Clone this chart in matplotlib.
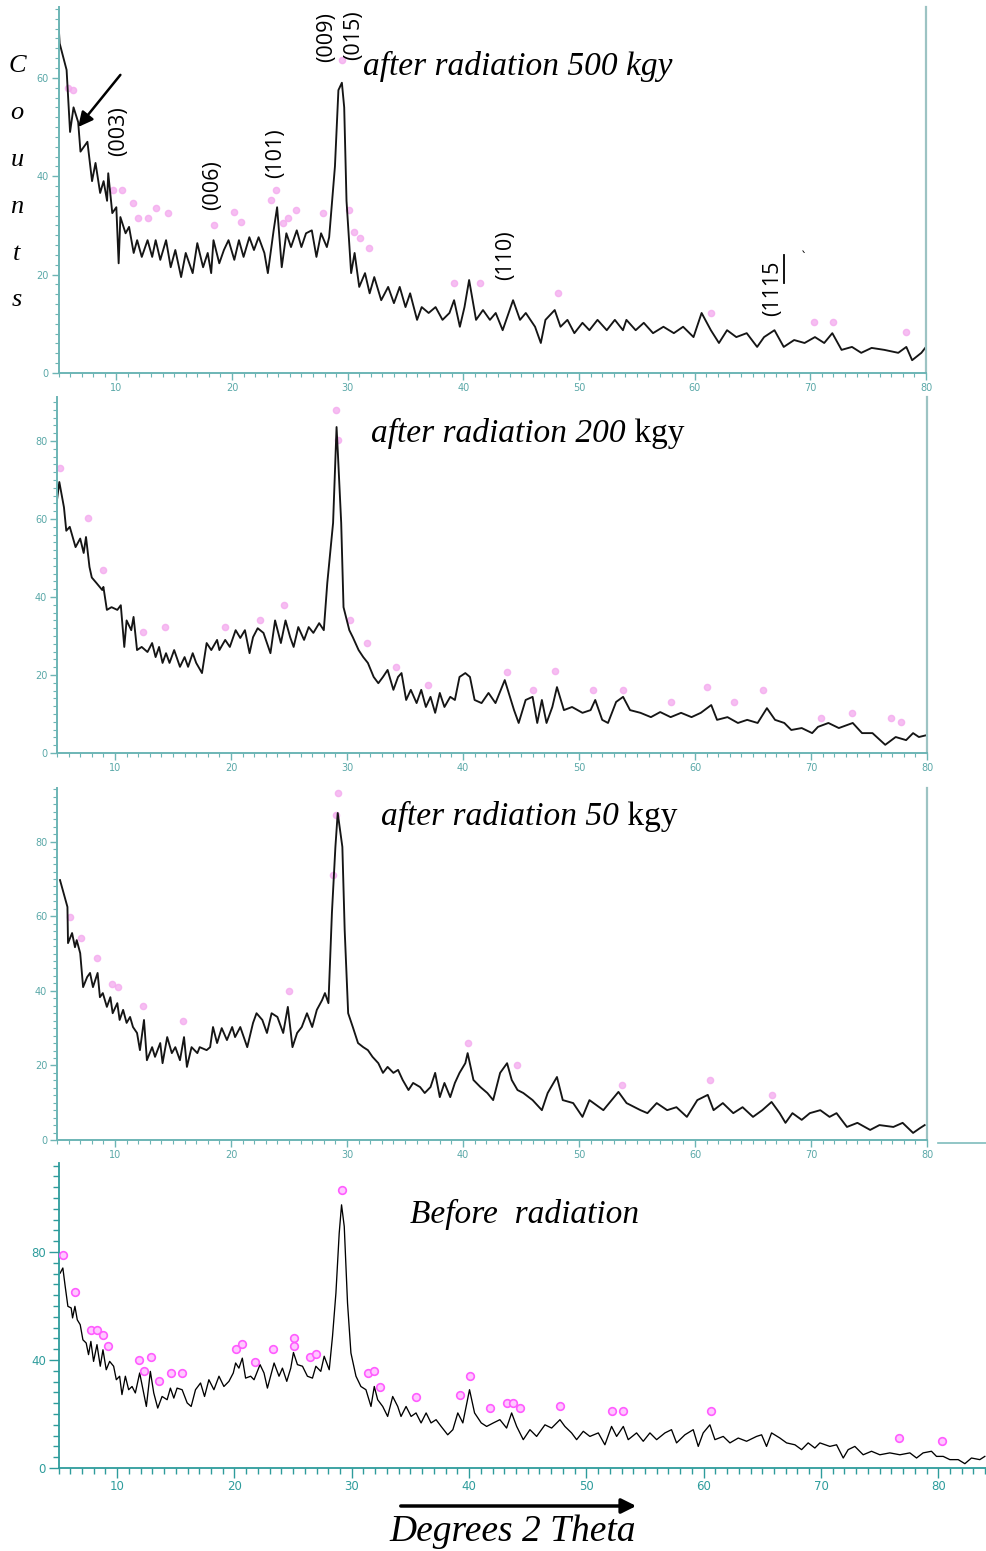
import matplotlib
matplotlib.use('Agg')
import matplotlib.pyplot as plt
from matplotlib.ticker import MultipleLocator
from matplotlib.lines import Line2D

# ---- after radiation 500 kgy ----
x500 = [5.0, 5.1, 5.7, 6.0, 6.3, 6.7, 6.9, 7.5, 7.9, 8.2,
        8.6, 8.9, 9.2, 9.3, 9.65, 10.0, 10.2, 10.35, 10.8, 11.1,
        11.5, 11.8, 12.2, 12.7, 13.1, 13.4, 13.8, 14.3, 14.7, 15.1,
        15.6, 16.0, 16.6, 17.0, 17.5, 17.9, 18.2, 18.4, 18.9, 19.3,
        19.7, 20.2, 20.6, 21.0, 21.5, 21.9, 22.3, 22.8, 23.1, 23.6,
        23.9, 24.3, 24.7, 25.1, 25.6, 26.0, 26.4, 26.9, 27.3, 27.7,
        28.2, 28.4, 28.9, 29.2, 29.5, 29.7, 29.9, 30.3, 30.6, 31.0,
        31.5, 31.9, 32.3, 32.9, 33.5, 34.0, 34.5, 35.0, 35.4, 36.0,
        36.4, 37.0, 37.6, 38.2, 38.8, 39.2, 39.7, 40.1, 40.5, 41.1,
        41.7, 42.3, 42.8, 43.4, 44.3, 44.9, 45.4, 46.2, 46.7, 47.1,
        47.9, 48.4, 49.0, 49.6, 50.3, 50.9, 51.6, 52.4, 53.1, 53.8,
        54.1, 54.9, 55.6, 56.4, 57.3, 58.2, 59.0, 59.9, 60.6, 61.4,
        62.1, 62.8, 63.6, 64.5, 65.4, 66.0, 66.9, 67.7, 68.6, 69.5,
        70.4, 71.2, 71.9, 72.7, 73.6, 74.4, 75.3, 76.4, 77.6, 78.3,
        78.8, 79.6, 80.0]
y500 = [71, 67, 61.6, 49, 54, 51, 45, 47, 39, 42.7,
        36.6, 39, 35, 40.6, 32.5, 33.7, 22.3, 31.7, 28.4, 29.7,
        24.4, 27, 23.6, 27, 23.6, 27, 23, 27, 21.5, 25,
        19.5, 24.4, 20.3, 26.4, 21.5, 24.4, 20.3, 27, 22.3, 25,
        27, 23, 27, 23.6, 27.6, 25, 27.6, 24.4, 20.3, 29,
        33.7, 21.5, 28.4, 25.6, 29, 25.6, 28.4, 29, 23.6, 28.4,
        25.6, 27.6, 42, 57.5, 59, 54, 35, 20.3, 24.4, 17.5,
        20.3, 16.2, 19.5, 14.8, 17.5, 14.2, 17.5, 13.4, 16.2, 10.8,
        13.4, 12.2, 13.4, 10.8, 12.2, 14.8, 9.4, 13.4, 18.9, 10.8,
        12.8, 10.8, 12.2, 8.7, 14.8, 10.8, 12.2, 9.4, 6.1, 10.8,
        12.8, 9.4, 10.8, 8.1, 10.2, 8.7, 10.8, 8.7, 10.8, 8.7,
        10.8, 8.7, 10.2, 8.1, 9.4, 8.1, 9.4, 7.3, 12.2, 8.7,
        6.1, 8.7, 7.3, 8.1, 5.3, 7.3, 8.7, 5.3, 6.7, 6.1,
        7.3, 6.1, 8.1, 4.7, 5.3, 4.1, 5.1, 4.7, 4.1, 5.3,
        2.6, 4.1, 5.3]
mx500 = [5.83, 6.26, 9.74, 10.52, 11.48, 11.91, 12.7, 13.39, 14.43, 18.43,
         20.17, 20.78, 23.39, 23.83, 24.43, 24.87, 25.57, 27.91, 29.48, 30.09,
         30.52, 31.04, 31.83, 39.2, 41.4, 48.2, 61.4, 70.3, 72.0, 78.3]
my500 = [57.9, 57.5, 37.2, 37.2, 34.6, 31.5, 31.5, 33.5, 32.5, 30.1,
         32.7, 30.7, 35.2, 37.2, 30.5, 31.5, 33.1, 32.5, 63.6, 33.1,
         28.7, 27.4, 25.4, 18.3, 18.3, 16.3, 12.2, 10.4, 10.4, 8.3]

# ---- after radiation 200 kgy ----
x200 = [5.0, 5.2, 5.6, 5.8, 6.1, 6.6, 7.0, 7.3, 7.5, 7.8,
        8.0, 8.4, 8.9, 9.0, 9.3, 9.7, 10.2, 10.5, 10.8, 11.0,
        11.4, 11.6, 11.9, 12.3, 12.8, 13.2, 13.5, 13.8, 14.1, 14.4,
        14.7, 15.1, 15.6, 16.0, 16.3, 16.7, 17.0, 17.5, 17.9, 18.3,
        18.8, 19.0, 19.5, 19.9, 20.4, 20.8, 21.2, 21.6, 21.9, 22.3,
        22.8, 23.4, 23.8, 24.3, 24.7, 25.1, 25.4, 25.8, 26.3, 26.7,
        27.1, 27.6, 28.0, 28.3, 28.8, 29.1, 29.2, 29.5, 29.7, 30.2,
        30.5, 31.0, 31.4, 31.8, 32.3, 32.7, 33.1, 33.5, 34.0, 34.4,
        34.7, 35.1, 35.5, 36.0, 36.4, 36.8, 37.2, 37.6, 38.0, 38.4,
        38.9, 39.3, 39.7, 40.2, 40.6, 41.0, 41.6, 42.2, 42.8, 43.6,
        44.4, 44.8, 45.4, 46.0, 46.4, 46.8, 47.2, 47.7, 48.1, 48.7,
        49.4, 50.3, 51.0, 51.4, 52.0, 52.5, 53.2, 53.8, 54.4, 55.3,
        56.2, 57.0, 57.9, 58.8, 59.7, 60.5, 61.4, 61.9, 62.8, 63.7,
        64.5, 65.4, 66.2, 66.9, 67.7, 68.3, 69.2, 70.1, 70.6, 71.5,
        72.4, 73.6, 74.4, 75.3, 76.4, 77.3, 78.2, 78.8, 79.3, 80.0]
y200 = [64.9, 69.5, 63, 57, 58, 52.8, 55, 51.3, 55.4, 47.7,
        45, 43.6, 41.8, 42.6, 36.7, 37.4, 36.7, 37.9, 27.2, 34,
        31.5, 34.9, 26.4, 27.2, 25.9, 28.2, 24.6, 27.2, 23.1, 25.6,
        23.1, 26.4, 22.1, 24.6, 22.1, 25.6, 23.1, 20.5, 28.2, 26.4,
        29, 26.4, 29, 27.2, 31.5, 29.5, 31.5, 25.6, 29.7, 32,
        30.8, 25.6, 34, 28.2, 34, 29.7, 27.2, 32.3, 29, 32.3,
        30.8, 33.3, 31.5, 43.6, 59, 83.6, 77.7, 59, 37.4, 31.5,
        29.7, 26.4, 24.6, 23.1, 19.5, 17.9, 19.5, 21.3, 16.2, 19.5,
        20.5, 13.6, 16.2, 12.8, 16.2, 11.8, 14.4, 10.3, 15.4, 11.8,
        14.4, 13.6, 19.5, 20.5, 19.5, 13.6, 12.8, 15.4, 12.8, 18.7,
        11, 7.7, 13.6, 14.4, 7.7, 13.6, 7.7, 11.8, 16.9, 11,
        11.8, 10.3, 11, 13.6, 8.5, 7.7, 13.1, 14.4, 11, 10.3,
        9.2, 10.5, 9.2, 10.3, 9.2, 10.3, 12.3, 8.5, 9.2, 7.7,
        8.5, 7.7, 11.5, 8.5, 7.7, 5.9, 6.4, 5.1, 6.7, 7.7,
        6.4, 7.7, 5.1, 5.1, 2.1, 4.1, 3.3, 5.1, 4.1, 4.6]
mx200 = [5.26, 7.67, 8.97, 12.41, 14.31, 19.48, 22.5, 24.57, 29.05, 29.22,
         30.26, 31.72, 34.22, 36.98, 43.79, 46.03, 47.93, 51.2, 53.8, 57.9,
         61.0, 63.4, 65.9, 70.9, 73.5, 76.9, 77.8]
my200 = [73.1, 60.3, 47.0, 31.1, 32.3, 32.3, 34.1, 37.9, 87.9, 80.3,
         34.1, 28.2, 22.1, 17.4, 20.8, 16.2, 21.0, 16.2, 16.2, 13.1,
         16.9, 13.1, 16.2, 9.0, 10.3, 9.0, 7.9]

# ---- after radiation 50 kgy ----
x50 = [5.26, 5.5, 5.9, 5.95, 6.3, 6.55, 6.7, 7.0, 7.25, 7.6,
       7.85, 8.1, 8.5, 8.7, 8.95, 9.3, 9.6, 9.8, 10.2, 10.4,
       10.7, 11.0, 11.3, 11.55, 11.9, 12.15, 12.5, 12.75, 13.2, 13.45,
       13.9, 14.1, 14.5, 14.9, 15.2, 15.6, 15.95, 16.2, 16.6, 17.1,
       17.3, 17.9, 18.2, 18.45, 18.8, 19.2, 19.65, 20.1, 20.35, 20.8,
       21.4, 21.9, 22.2, 22.7, 23.1, 23.5, 24.0, 24.5, 24.9, 25.3,
       25.7, 26.1, 26.55, 27.0, 27.4, 27.85, 28.1, 28.4, 28.7, 29.0,
       29.2, 29.6, 29.8, 30.1, 30.5, 30.95, 31.4, 31.8, 32.2, 32.7,
       33.1, 33.5, 34.0, 34.4, 34.8, 35.3, 35.7, 36.3, 36.7, 37.2,
       37.6, 38.0, 38.4, 38.9, 39.3, 39.7, 40.2, 40.4, 40.9, 41.5,
       42.1, 42.6, 43.2, 43.8, 44.2, 44.7, 45.2, 46.0, 46.8, 47.3,
       48.1, 48.6, 49.5, 50.3, 50.9, 52.1, 53.4, 54.1, 55.3, 55.9,
       56.7, 57.6, 58.4, 59.3, 60.2, 61.1, 61.6, 62.4, 63.3, 64.1,
       65.0, 65.8, 66.6, 67.3, 67.8, 68.4, 69.2, 69.9, 70.8, 71.6,
       72.2, 73.1, 74.0, 75.1, 75.9, 77.1, 77.9, 78.8, 79.4, 79.8]
y50 = [69.7, 67, 62.5, 52.8, 55.5, 51.7, 53.6, 50.1, 41, 43.7,
       44.8, 41, 44.8, 38.3, 39.4, 35.7, 38.3, 34, 36.7, 32.2,
       34.9, 31.4, 33, 30.3, 28.7, 24.1, 32.2, 21.4, 24.9, 22.3,
       26, 20.6, 27.6, 23.3, 24.9, 21.4, 27.6, 19.6, 24.9, 23.3,
       24.9, 24.1, 24.9, 30.3, 26, 30, 26.8, 30.3, 27.6, 30.3,
       24.9, 31.4, 34, 32.2, 28.7, 34, 33, 28.7, 35.7, 24.9,
       28.7, 30.3, 34, 30.3, 34.9, 37.5, 39.4, 36.7, 60.9, 78.6,
       87.7, 78.6, 56.3, 34, 30.3, 26, 24.9, 24.1, 22.3, 20.6,
       18, 19.6, 18, 18.8, 16.1, 13.4, 15.3, 14.2, 12.6, 14.2,
       18, 11.5, 15.3, 11.5, 15.3, 18, 20.6, 23.3, 16.1, 14.2,
       12.6, 10.7, 18, 20.6, 16.1, 13.4, 12.6, 10.7, 8, 12.6,
       16.9, 10.7, 9.9, 6.2, 10.7, 8, 12.9, 9.9, 8, 7.2,
       9.9, 8, 8.8, 6.2, 10.7, 12.1, 8, 9.9, 7.2, 8.8,
       6.2, 8, 10.2, 7.2, 4.6, 7.2, 5.4, 7.2, 8, 6.2,
       7.2, 3.5, 4.6, 2.7, 4, 3.5, 4.6, 1.9, 3.2, 4]
mx50 = [6.12, 7.07, 8.45, 9.74, 10.26, 12.41, 15.86, 25.0, 28.8, 29.05,
        29.22, 40.43, 44.66, 53.7, 61.3, 66.6]
my50 = [59.8, 54.2, 48.8, 41.8, 41.0, 35.9, 31.9, 39.9, 71.0, 87.1,
        93.0, 26.0, 20.1, 14.7, 16.1, 12.1]

# ---- before radiation ----
x0 = [5.14, 5.37, 5.57, 5.8, 6.08, 6.2, 6.4, 6.6, 6.85, 7.08,
      7.36, 7.56, 7.76, 7.99, 8.28, 8.56, 8.79, 9.07, 9.36, 9.7,
      9.93, 10.21, 10.41, 10.7, 10.98, 11.27, 11.55, 11.92, 12.26, 12.49,
      12.83, 13.12, 13.46, 13.83, 14.26, 14.54, 14.83, 15.11, 15.54, 15.97,
      16.31, 16.68, 17.11, 17.45, 17.82, 18.25, 18.68, 19.1, 19.53, 19.9,
      20.1, 20.38, 20.67, 20.95, 21.38, 21.67, 22.18, 22.52, 22.81, 23.38,
      23.8, 24.09, 24.46, 24.8, 25.03, 25.37, 25.8, 26.22, 26.65, 26.94,
      27.36, 27.65, 28.08, 28.36, 28.65, 28.93, 29.13, 29.36, 29.64, 29.93,
      30.36, 30.78, 31.21, 31.64, 31.92, 32.21, 32.64, 33.06, 33.49, 33.92,
      34.2, 34.63, 35.06, 35.48, 35.91, 36.34, 36.76, 37.19, 37.62, 38.18,
      38.62, 39.04, 39.47, 40.04, 40.47, 41.04, 41.5, 42.07, 42.63, 43.2,
      43.63, 44.06, 44.62, 45.19, 45.76, 46.47, 47.04, 47.75, 48.17, 48.74,
      49.17, 49.74, 50.3, 51.02, 51.58, 52.15, 52.58, 53.15, 53.57, 54.28,
      54.85, 55.42, 55.99, 56.7, 57.26, 57.69, 58.4, 59.11, 59.54, 59.96,
      60.53, 60.96, 61.67, 62.24, 62.95, 63.66, 64.51, 64.94, 65.36, 65.79,
      66.5, 67.07, 67.78, 68.35, 68.91, 69.48, 69.91, 70.76, 71.33, 71.9,
      72.32, 72.89, 73.6, 74.31, 75.02, 75.87, 76.73, 77.58, 78.15, 78.71,
      79.42, 79.85, 80.42, 80.99, 81.7, 82.27, 82.83, 83.54, 83.97]
y0 = [72.2, 74.1, 67.3, 59.9, 59.3, 55.6, 59.9, 54.9, 53.1, 47.5,
      46.3, 42, 46.9, 39.5, 45.7, 37.7, 43.8, 36.4, 39.5, 37.7,
      32.7, 34, 27.2, 34, 29, 30.2, 27.8, 35.2, 27.8, 22.8,
      35.8, 27.8, 22.2, 26.5, 25.3, 29.6, 25.9, 29.6, 29, 24.1,
      22.8, 29, 31.5, 26.5, 32.7, 29, 34, 30.2, 32.1, 35.2,
      38.9, 37, 40.7, 33.3, 34, 32.7, 38.3, 35.2, 29.6, 38.9,
      34, 37, 32.1, 37, 42.8, 38.3, 37.7, 34, 33.3, 37.7,
      35.8, 41.4, 36.4, 48.8, 64.8, 87, 97.5, 89.5, 61.1, 42.6,
      34, 30.2, 29, 22.8, 30.2, 25.3, 22.8, 19.1, 26.5, 22.8,
      19.1, 22.8, 19.1, 20.4, 16.7, 20.4, 16.7, 17.9, 15.4, 12.3,
      14.2, 20.4, 16.7, 29, 20.4, 16.7, 15.4, 16.7, 17.9, 14.8,
      20.4, 15.4, 10.5, 14.2, 11.7, 16, 14.8, 17.9, 15.4, 13,
      10.5, 13.6, 11.7, 13, 8.6, 15.4, 11.7, 15.4, 10.5, 13,
      9.9, 13, 10.5, 13, 14.2, 9.3, 12.3, 14.2, 8, 13,
      16, 10.5, 11.7, 9.3, 11.1, 9.9, 11.7, 12.3, 8, 13,
      11.1, 9.3, 8.6, 6.8, 9.3, 7.4, 9.3, 8, 8.6, 3.7,
      6.8, 8, 4.9, 6.2, 4.9, 5.6, 4.9, 5.6, 3.7, 5.6,
      6.2, 4.3, 4.3, 3.1, 3.1, 1.6, 3.7, 3.1, 4.3]
mx0 = [5.37, 6.37, 7.76, 8.3, 8.76, 9.22, 11.87, 12.29, 12.86, 13.6,
       14.6, 15.57, 20.13, 20.67, 21.72, 23.32, 25.09, 25.09, 26.45, 26.97,
       29.19, 31.38, 31.89, 32.44, 35.46, 39.27, 40.1, 41.8, 43.2, 43.71,
       44.37, 47.75, 52.2, 53.15, 60.59, 76.67, 80.28]
my0 = [79, 65.1, 51, 51, 49.1, 45.1, 40.1, 36, 41.1, 32.1,
       35.1, 35.1, 44.1, 46, 39.1, 44.1, 48, 45.1, 41.1, 42.1,
       103.1, 35.1, 36, 30.1, 26.2, 27.2, 34.1, 22.1, 24.1, 24.1,
       22.1, 23.1, 21.1, 21.1, 21.1, 11.1, 10.1]

miller_labels = ['(003)', '(006)', '(101)', '(009)', '(015)', '(110)', '(1115']
miller_x = [10.17, 18.35, 23.74, 28.17, 30.52, 43.65, 66.7]
miller_y = [49.2, 38.2, 44.7, 68.3, 68.7, 24.0, 17.2]

W, H = 986, 1551
fig = plt.figure(figsize=(W / 100, H / 100), dpi=100)
serif = 'Liberation Serif'


def box(l, t, r, b):
    return [l / W, 1 - b / H, (r - l) / W, (b - t) / H]


def fx(px):
    return px / W


def fy(py):
    return 1 - py / H


def style_top(ax, ymax, yticks):
    ax.set_xlim(5, 80)
    ax.set_ylim(0, ymax)
    ax.set_xticks(range(10, 81, 10))
    ax.set_yticks(yticks)
    ax.xaxis.set_minor_locator(MultipleLocator(1))
    ax.yaxis.set_minor_locator(MultipleLocator(2))
    for s in ['left', 'bottom']:
        ax.spines[s].set_color('#6db5b5')
        ax.spines[s].set_linewidth(1.4)
    ax.spines['top'].set_visible(False)
    ax.spines['right'].set_color('#9cc3c3')
    ax.spines['right'].set_linewidth(1.6)
    ax.tick_params(which='major', direction='out', length=5, width=1,
                   color='#6db5b5', labelcolor='#5aa8a8', labelsize=7, pad=2)
    ax.tick_params(which='minor', direction='out', length=3, width=0.8,
                   color='#6db5b5')
    ax.patch.set_alpha(0)


tops = [
    (x500, y500, mx500, my500, box(58.5, 7, 926, 373), 74.4, [0, 20, 40, 60]),
    (x200, y200, mx200, my200, box(57, 397, 927, 753), 91.3, [0, 20, 40, 60, 80]),
    (x50, y50, mx50, my50, box(57, 788, 927, 1140), 94.4, [0, 20, 40, 60, 80]),
]
axes = []
for xs, ys, mxs, mys, pos, ymax, yt in tops:
    ax = fig.add_axes(pos)
    ax.plot(mxs, mys, 'o', ms=4.5, color='#f4a8ee', alpha=0.75, ls='none', zorder=1)
    ax.plot(xs, ys, color='#151515', lw=1.35, zorder=2)
    style_top(ax, ymax, yt)
    axes.append(ax)

# bottom panel
ax4 = fig.add_axes(box(58.5, 1163, 986, 1468))
ax4.plot(x0, y0, color='black', lw=0.95, zorder=2)
ax4.plot(mx0, my0, 'o', ms=5.5, mfc='#ffc8ff', mec='#ff5cff', mew=1.2, ls='none', zorder=3)
ax4.set_xlim(5, 84.07)
ax4.set_ylim(0, 113)
ax4.set_xticks(range(10, 81, 10))
ax4.set_yticks([0, 40, 80])
ax4.xaxis.set_minor_locator(MultipleLocator(1))
ax4.yaxis.set_minor_locator(MultipleLocator(4))
for s in ['top', 'right']:
    ax4.spines[s].set_visible(False)
for s in ['left', 'bottom']:
    ax4.spines[s].set_color('#2e9c9c')
    ax4.spines[s].set_linewidth(1.3)
ax4.tick_params(which='major', direction='out', length=7, width=1,
                color='#2e9c9c', labelcolor='#2e9c9c', labelsize=8.5, pad=2)
ax4.tick_params(which='minor', direction='out', length=4, width=1, color='#2e9c9c')
ax4.patch.set_alpha(0)

# annotations in the top panel
ax1 = axes[0]
for lab, lx, ly in zip(miller_labels, miller_x, miller_y):
    ax1.text(lx, ly, lab, rotation=90, ha='center', va='center',
             fontsize=15.5, family='Open Sans', clip_on=False)
ax1.plot([67.75, 67.75], [18.3, 24.0], color='black', lw=1.3, clip_on=False)
ax1.text(69.5, 23.4, '`', fontsize=9, ha='center', va='center')
ax1.annotate('', xy=(6.7, 50), xytext=(10.35, 60.6),
             arrowprops=dict(arrowstyle='-|>', color='black', lw=1.8,
                             mutation_scale=22, shrinkA=0, shrinkB=0))

fig.text(fx(363), fy(75), 'after radiation 500 kgy', family=serif,
         style='italic', fontsize=24, va='baseline')
fig.canvas.draw()
renderer = fig.canvas.get_renderer()
for x_px, base, part in [(371, 442, 'after radiation 200'), (381, 825, 'after radiation 50')]:
    t = fig.text(fx(x_px), fy(base), part, family=serif, style='italic',
                 fontsize=24, va='baseline')
    bb = t.get_window_extent(renderer)
    fig.text(bb.x1 / fig.bbox.width, fy(base), ' kgy', family=serif,
             fontsize=24, va='baseline')
fig.text(fx(410), fy(1223), 'Before  radiation', family=serif,
         style='italic', fontsize=24, va='baseline')

# Counts label
for letter, cy in zip('Counts', [66, 113, 160, 207, 254, 300]):
    fig.text(fx(17), fy(cy), letter, family=serif, style='italic',
             fontsize=19, ha='center', va='center')

# x axis caption with arrow
fig.text(fx(513), fy(1541), 'Degrees 2 Theta', family=serif, style='italic',
         fontsize=27, ha='center', va='baseline')
fig.add_artist(matplotlib.patches.FancyArrowPatch(
    (fx(398), fy(1506)), (fx(639), fy(1506)), transform=fig.transFigure,
    arrowstyle='-|>', mutation_scale=22, lw=2.5, color='black'))

# stray axis line right of the third panel
fig.add_artist(Line2D([fx(938), 1.0], [fy(1143), fy(1143)], color='#7fbcbc', lw=1.2))

fig.savefig('out.png', dpi=100)
